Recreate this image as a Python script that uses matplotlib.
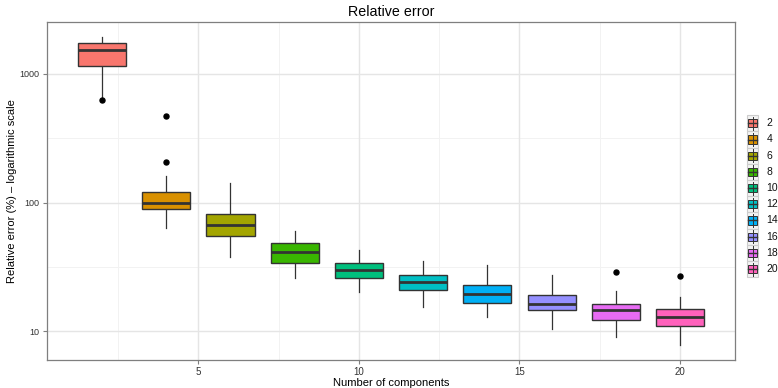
import matplotlib
matplotlib.use("Agg")
import matplotlib.pyplot as plt
from matplotlib.patches import Rectangle
import numpy as np

plt.rcParams['font.family'] = ['Liberation Sans', 'DejaVu Sans']

# ---- data ----
components = [2, 4, 6, 8, 10, 12, 14, 16, 18, 20]
whislo = [667, 63.2, 37.7, 26.2, 20.1, 15.5, 12.9, 10.5, 9.0, 7.8]
q1     = [1160, 88.9, 55.1, 34.2, 26.0, 21.0, 16.7, 14.7, 12.2, 11.1]
median = [1528, 100, 67.1, 41.2, 30.1, 24.2, 19.5, 16.4, 14.6, 13.0]
q3     = [1750, 120.5, 82.2, 48.6, 33.8, 27.3, 23.0, 19.2, 16.3, 14.9]
whishi = [1928, 162, 141.6, 60.5, 42.8, 35.4, 32.7, 27.3, 20.5, 18.4]
outliers = [[628], [207, 472], [], [], [], [], [], [], [29.0], [26.9]]
colors = ['#F8766D', '#D89000', '#A3A500', '#39B600', '#00BF7D',
          '#00BFC4', '#00B0F6', '#9590FF', '#E76BF3', '#FF62BC']
x_ticks = [5, 10, 15, 20]
y_ticks = [10, 100, 1000]
y_tick_labels = ['10', '100', '1000']

W, H = 778, 388
fig = plt.figure(figsize=(W / 100, H / 100), dpi=100)
L, R, T, B = 46.7, 735, 21.7, 360
ax = fig.add_axes([L / W, 1 - B / H, (R - L) / W, (B - T) / H])

stats = []
for i in range(len(components)):
    stats.append(dict(whislo=whislo[i], q1=q1[i], med=median[i], q3=q3[i],
                      whishi=whishi[i], fliers=outliers[i]))

edge = '#333333'
bp = ax.bxp(stats, positions=components, widths=1.5, patch_artist=True,
            showcaps=False,
            boxprops=dict(edgecolor=edge, linewidth=1.0),
            medianprops=dict(color=edge, linewidth=2.0),
            whiskerprops=dict(color=edge, linewidth=0.9),
            flierprops=dict(marker='o', markerfacecolor='black',
                            markeredgecolor='black', markersize=3.6))
for patch, c in zip(bp['boxes'], colors):
    patch.set_facecolor(c)
for b in bp['boxes']:
    b.set_zorder(3)
for m in bp['medians']:
    m.set_zorder(4)

ax.set_yscale('log')
ax.set_xlim(0.28, 21.71)
ax.set_ylim(6.0, 2547)

# grid
ax.set_axisbelow(True)
for v in [2.5, 7.5, 12.5, 17.5]:
    ax.axvline(v, color='#F2F2F2', lw=0.7, zorder=0)
for v in [10 ** 1.5, 10 ** 2.5]:
    ax.axhline(v, color='#F2F2F2', lw=0.7, zorder=0)
for v in x_ticks:
    ax.axvline(v, color='#E5E5E5', lw=1.0, zorder=0)
for v in y_ticks:
    ax.axhline(v, color='#E5E5E5', lw=1.0, zorder=0)

ax.set_xticks(x_ticks)
ax.set_xticklabels([str(t) for t in x_ticks])
ax.set_yticks(y_ticks)
ax.set_yticklabels(y_tick_labels)
ax.yaxis.set_minor_locator(matplotlib.ticker.NullLocator())
ax.xaxis.set_minor_locator(matplotlib.ticker.NullLocator())
ax.tick_params(axis='both', length=3, width=0.8, color='#7F7F7F',
               labelcolor='#333333', pad=2)
ax.tick_params(axis='x', labelsize=7)
ax.tick_params(axis='y', labelsize=6.5)
for s in ax.spines.values():
    s.set_color('#7F7F7F')
    s.set_linewidth(0.9)

ax.set_xlabel('Number of components', fontsize=8, labelpad=1)
ax.set_ylabel('Relative error (%) \u2013 logarithmic scale', fontsize=8, labelpad=2)
ax.set_title('Relative error', fontsize=10.3, pad=4)

# legend drawn in pixel coordinates
lax = fig.add_axes([0, 0, 1, 1], zorder=5)
lax.set_xlim(0, W)
lax.set_ylim(H, 0)
lax.axis('off')
kx0, kx1 = 747.3, 757.8
ky0, kh = 115.2, 16.2
for i, (lab, c) in enumerate(zip(components, colors)):
    y0 = ky0 + i * kh
    lax.add_patch(Rectangle((kx0, y0), kx1 - kx0, kh, facecolor='#F2F2F2',
                            edgecolor='#CCCCCC', lw=0.8))
    xc = (kx0 + kx1) / 2
    lax.plot([xc, xc], [y0 + 1.5, y0 + kh - 1.5], color=edge, lw=0.7)
    lax.add_patch(Rectangle((kx0 + 1.2, y0 + 4), kx1 - kx0 - 2.4, kh - 8,
                            facecolor=c, edgecolor=edge, lw=0.7))
    lax.plot([kx0 + 1.2, kx1 - 1.2], [y0 + kh / 2, y0 + kh / 2], color=edge, lw=1.0)
    lax.text(766.5, y0 + kh / 2, str(lab), fontsize=7.5, va='center',
             ha='left', color='#111111')

fig.savefig('out.png', dpi=100)
